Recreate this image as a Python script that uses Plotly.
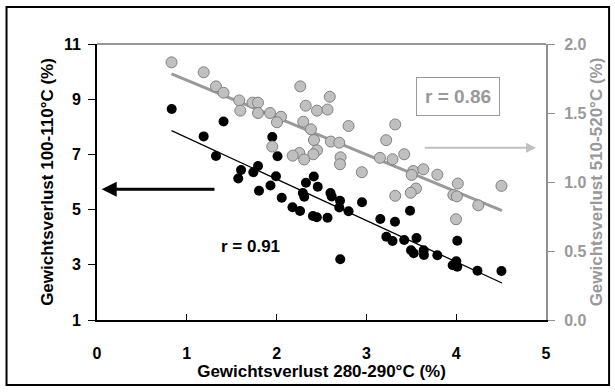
import plotly.graph_objects as go

# Black series: Gewichtsverlust 280-290 °C (x) vs 100-110 °C (left axis)
black_x = [0.832, 1.409, 1.188, 1.952, 1.325, 2.010, 1.604, 1.793, 1.741, 1.573,
           1.993, 2.414, 2.327, 2.458, 1.804, 1.932, 2.057, 2.292, 2.308, 2.177,
           2.261, 2.405, 2.448, 2.567, 2.600, 2.614, 2.706, 2.698, 2.951, 2.801,
           3.486, 3.155, 3.318, 2.709, 3.222, 3.291, 3.421, 3.558, 4.012, 3.497,
           3.527, 3.638, 3.641, 3.790, 4.001, 3.961, 4.012, 4.237, 4.504]
black_y = [8.645, 8.192, 7.652, 7.630, 6.942, 6.935, 6.435, 6.580, 6.351, 6.127,
           6.207, 6.199, 5.975, 5.830, 5.685, 5.873, 5.431, 5.601, 5.467, 5.083,
           4.949, 4.768, 4.721, 4.707, 5.601, 5.475, 5.322, 5.076, 5.264, 4.938,
           4.960, 4.659, 4.562, 3.203, 4.018, 3.862, 3.899, 3.971, 3.870, 3.525,
           3.417, 3.525, 3.355, 3.348, 3.127, 2.982, 2.931, 2.786, 2.775]

# Gray series: Gewichtsverlust 280-290 °C (x) vs 510-520 °C (right axis)
gray_x = [0.830, 1.188, 1.325, 1.409, 1.584, 1.596, 1.732, 1.793, 1.793, 1.927,
          2.049, 2.004, 2.264, 2.324, 2.450, 2.567, 2.592, 2.297, 2.383, 2.801,
          1.952, 2.416, 2.604, 2.698, 2.450, 2.409, 2.253, 2.179, 2.307, 2.712,
          2.706, 2.949, 3.321, 3.220, 3.151, 3.291, 3.421, 3.522, 3.504, 3.634,
          3.790, 4.018, 4.504, 3.552, 3.494, 3.321, 3.968, 4.007, 4.246, 3.998]
gray_y = [1.867, 1.795, 1.693, 1.647, 1.591, 1.517, 1.575, 1.575, 1.500, 1.500,
          1.473, 1.433, 1.693, 1.553, 1.517, 1.525, 1.618, 1.437, 1.382, 1.406,
          1.257, 1.304, 1.293, 1.285, 1.230, 1.201, 1.210, 1.191, 1.163, 1.179,
          1.129, 1.071, 1.417, 1.303, 1.175, 1.165, 1.201, 1.080, 1.051, 1.092,
          1.053, 0.989, 0.972, 0.953, 0.922, 0.900, 0.906, 0.896, 0.831, 0.730]

# Regression line end points
fit_x = [0.83, 4.51]
black_fit = [7.86, 2.34]
gray_fit = [1.783, 0.793]

x_ticks = [0, 1, 2, 3, 4, 5]
left_ticks = [1, 3, 5, 7, 9, 11]
right_ticks = [0.0, 0.5, 1.0, 1.5, 2.0]

FONT = "Liberation Sans, Arial, sans-serif"
GRAY_TXT = "#999999"
TICK_SIZE = 16
TITLE_SIZE = 17

fig = go.Figure()

fig.add_trace(go.Scatter(x=fit_x, y=gray_fit, mode="lines", yaxis="y2",
                         line=dict(color="#9a9a9a", width=3), hoverinfo="skip"))
fig.add_trace(go.Scatter(x=gray_x, y=gray_y, mode="markers", yaxis="y2",
                         marker=dict(size=11, color="#c0c0c0",
                                     line=dict(color="#808080", width=1))))
fig.add_trace(go.Scatter(x=fit_x, y=black_fit, mode="lines", yaxis="y",
                         line=dict(color="black", width=1.3), hoverinfo="skip"))
fig.add_trace(go.Scatter(x=black_x, y=black_y, mode="markers", yaxis="y",
                         marker=dict(size=10, color="black",
                                     line=dict(color="black", width=0))))

fig.update_layout(
    width=615, height=392,
    margin=dict(l=97, r=69, t=44, b=72),
    paper_bgcolor="white", plot_bgcolor="white",
    showlegend=False,
    font=dict(family=FONT, size=TICK_SIZE, color="black", weight="bold"),
    xaxis=dict(range=[0, 5], tickvals=x_ticks, ticks="inside", ticklen=6,
               tickcolor="black", tickwidth=1, showline=True, linecolor="black",
               linewidth=2, showgrid=False, zeroline=False,
               ticklabelstandoff=18,
               tickfont=dict(family=FONT, size=TICK_SIZE, color="black", weight="bold"),
               title=dict(text="Gewichtsverlust 280-290°C (%)", standoff=3,
                          font=dict(family=FONT, size=TITLE_SIZE, color="black", weight="bold"))),
    yaxis=dict(range=[1, 11], tickvals=left_ticks, ticks="outside", ticklen=7,
               tickcolor="black", tickwidth=1, showline=True, linecolor="black",
               linewidth=2, showgrid=False, zeroline=False,
               ticklabelstandoff=4,
               tickfont=dict(family=FONT, size=TICK_SIZE, color="black", weight="bold"),
               title=dict(text="Gewichtsverlust 100-110°C (%)", standoff=6,
                          font=dict(family=FONT, size=TITLE_SIZE, color="black", weight="bold"))),
    yaxis2=dict(range=[0, 2], tickvals=right_ticks, tickformat=".1f",
                overlaying="y", side="right", ticks="outside", ticklen=7,
                tickcolor="#909090", tickwidth=1, showline=True, linecolor="#909090",
                linewidth=2, showgrid=False, zeroline=False,
                ticklabelstandoff=6,
                tickfont=dict(family=FONT, size=TICK_SIZE, color=GRAY_TXT, weight="bold"),
                title=dict(text="Gewichtsverlust 510-520°C (%)", standoff=4,
                           font=dict(family=FONT, size=TITLE_SIZE, color=GRAY_TXT, weight="bold"))),
    shapes=[
        dict(type="line", xref="paper", yref="paper", x0=0, x1=1, y0=1, y1=1,
             line=dict(color="#333333", width=1.2)),
        dict(type="rect", xref="paper", yref="paper", x0=-0.2015, x1=1.1405,
             y0=-0.2355, y1=1.134, line=dict(color="black", width=2)),
    ],
    annotations=[
        dict(x=0.052, y=5.735, xref="x", yref="y", ax=1.325, ay=5.735,
             axref="x", ayref="y", showarrow=True, arrowhead=2, arrowsize=1,
             arrowwidth=3, arrowcolor="black", text=""),
        dict(x=4.889, y=1.249, xref="x", yref="y2", ax=3.634, ay=1.249,
             axref="x", ayref="y2", showarrow=True, arrowhead=2, arrowsize=1,
             arrowwidth=2, arrowcolor="#c0c0c0", text=""),
        dict(x=4.02, y=1.623, xref="x", yref="y2", text="r = 0.86", showarrow=False,
             font=dict(family=FONT, size=19, color=GRAY_TXT, weight="bold"),
             bordercolor="#999999", borderwidth=1, borderpad=8, bgcolor="white"),
        dict(x=1.704, y=3.656, xref="x", yref="y", text="r = 0.91", showarrow=False,
             font=dict(family=FONT, size=17, color="black", weight="bold")),
    ],
)

fig.write_html("out.html")
